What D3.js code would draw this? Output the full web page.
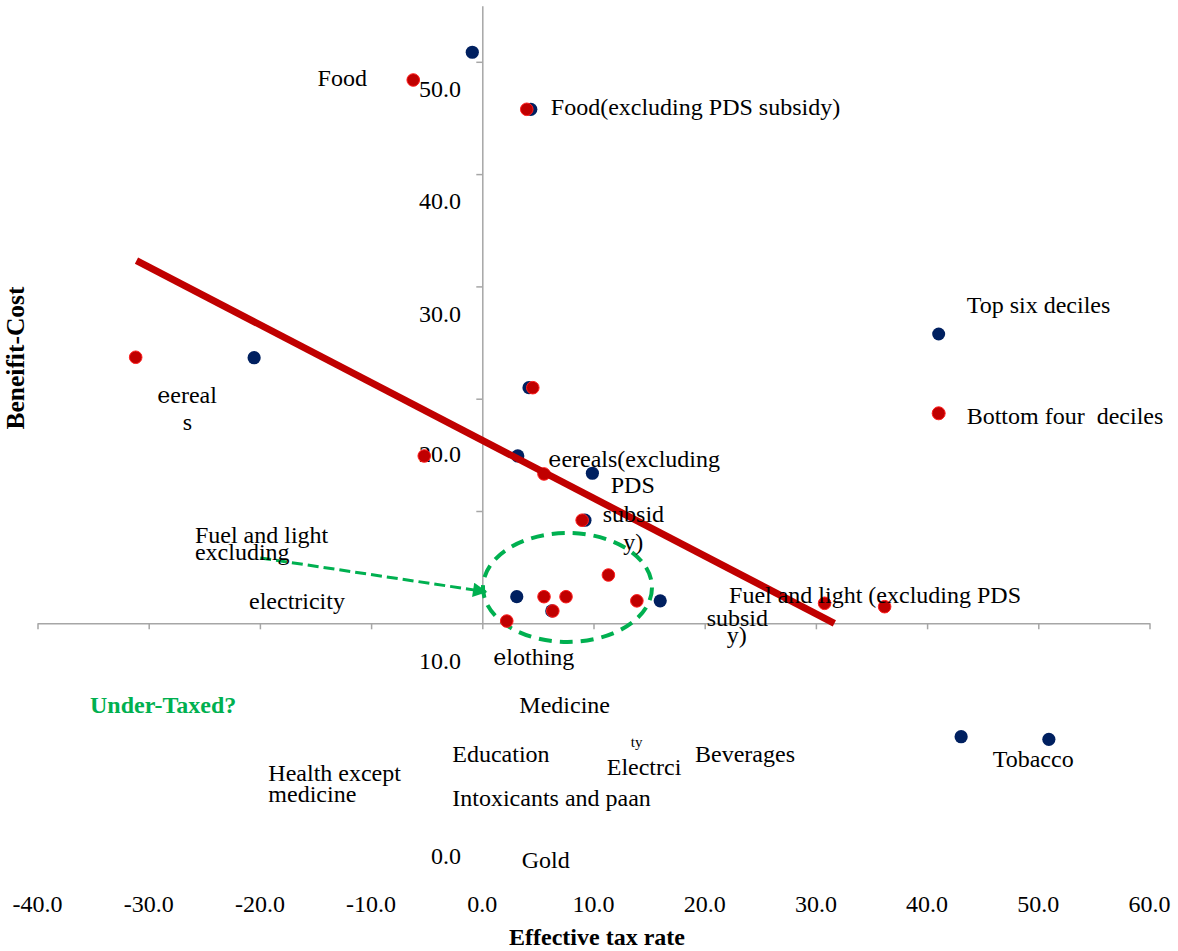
<!DOCTYPE html>
<html>
<head>
<meta charset="utf-8">
<script src="https://cdn.jsdelivr.net/npm/d3@7"></script>
<style>
  html, body { margin: 0; padding: 0; background: #ffffff; }
  svg { display: block; }
  text { font-family: "Liberation Serif", "Times New Roman", serif; fill: #000; }
</style>
</head>
<body>
<svg id="chart" width="1178" height="951"></svg>
<script>
// ---------------- DATA ----------------
const xTicks = [-40, -30, -20, -10, 0, 10, 20, 30, 40, 50, 60];
const xTickLabels = ["-40.0", "-30.0", "-20.0", "-10.0", "0.0", "10.0", "20.0", "30.0", "40.0", "50.0", "60.0"];
const yTicks = [10, 20, 30, 40, 50];
// y tick labels and the (displaced) data value at which each label sits
const yTickLabels = ["50.0", "40.0", "30.0", "20.0", "10.0", "0.0"];
const yTickLabelAt = [46.87, 36.89, 26.86, 14.39, -4.10, -21.46];

// Top six deciles (navy)
const topX = [-0.9, 4.36, -20.52, 4.2, 3.19, 9.9, 9.23, 3.1, 6.25, 16.0, 43.06, 50.95];
const topY = [50.85, 45.77, 23.65, 20.98, 14.9, 13.36, 9.18, 2.37, 1.1, 2.0, -10.1, -10.33];

// Bottom four deciles (red)
const bottomX = [-6.21, 4.0, -31.17, 4.54, -5.22, 5.55, 8.98, 11.34, 5.55, 7.53, 6.34, 2.2, 13.9, 30.78, 36.18];
const bottomY = [48.38, 45.77, 23.69, 20.98, 14.9, 13.3, 9.18, 4.3, 2.37, 2.37, 1.1, 0.2, 2.0, 1.78, 1.48];

// Trend line end points (x, y)
const trendX = [-31.1, 31.66];
const trendY = [32.3, 0.0];

// Legend
const legendNames = ["Top six deciles", "Bottom four  deciles"];
const legendX = [41.04, 41.04];
const legendY = [25.76, 18.7];
const legendTextX = [43.56, 43.56];
const legendTextY = [27.6, 17.75];

// Category annotations (text, anchor x, anchor y in data units)
const annotText = ["Food", "Food(excluding PDS subsidy)", "eereal", "s",
  "eereals(excluding", "PDS", "subsid", "y)",
  "Fuel and light", "excluding", "electricity",
  "Fuel and light (excluding PDS", "subsid", "y)",
  "elothing", "Medicine", "Education", "Electrci", "Beverages", "Tobacco",
  "Health except", "medicine", "Intoxicants and paan", "Gold"];
const annotX = [-14.81, 6.16, -29.23, -26.94,
  5.94, 11.55, 10.83, 12.68,
  -25.84, -25.84, -20.98,
  22.19, 20.18, 21.98,
  0.99, 3.33, -2.70, 11.19, 19.13, 45.9,
  -19.24, -19.24, -2.70, 3.54];
const annotY = [47.84, 45.26, 19.64, 17.17,
  13.94, 11.58, 9.05, 6.53,
  7.18, 5.64, 1.25,
  1.83, -0.21, -1.78,
  -3.71, -7.96, -12.38, -13.51, -12.32, -12.77,
  -14.02, -15.94, -16.24, -21.82];
// small superscript fragment
const smallText = ["ty"];
const smallX = [13.35];
const smallY = [-11.04];

// Green highlight: dashed ellipse (centre, radii in data units) and arrow
const ellipseCenter = [7.66, 3.19];
const ellipseRadii = [7.6, 4.85];
const arrowFrom = [-19.97, 5.82];
const arrowTo = [0.33, 2.81];
const calloutText = "Under-Taxed?";
const calloutPos = [-35.28, -7.96];

const xTitle = "Effective tax rate";
const yTitle = "Beneifit-Cost";

// ---------------- DRAW ----------------
const svg = d3.select("#chart");
const x = d3.scaleLinear().domain([-40, 60]).range([37.5, 1149.5]);
const y = d3.scaleLinear().domain([0, 50]).range([623.3, 61.8]);

const AXIS = "#a6a6a6";
const NAVY = "#002060";
const RED = "#c00000";
const GREEN = "#00b050";
const FS = 24;

// x axis
const gx = svg.append("g").attr("transform", `translate(0,${y(0)})`)
  .call(d3.axisBottom(x).tickValues(xTicks).tickSize(6).tickSizeOuter(0).tickFormat(""));
gx.select(".domain").attr("stroke", AXIS).attr("stroke-width", 1.5);
gx.selectAll(".tick line").attr("stroke", AXIS).attr("stroke-width", 1.5);

// y axis (line extends to 55)
const yAxisScale = y.copy().domain([0, 55]).range([y(0), y(55)]);
const gy = svg.append("g").attr("transform", `translate(${x(0)},0)`)
  .call(d3.axisLeft(yAxisScale).tickValues(yTicks).tickSize(6).tickSizeOuter(0).tickFormat(""));
gy.select(".domain").attr("stroke", AXIS).attr("stroke-width", 1.5);
gy.selectAll(".tick line").attr("stroke", AXIS).attr("stroke-width", 1.5);

// x tick labels
svg.append("g").selectAll("text").data(xTicks).join("text")
  .attr("x", d => x(d)).attr("y", y(-25.68))
  .attr("text-anchor", "middle").attr("font-size", FS)
  .text((d, i) => xTickLabels[i]);

// y tick labels (displaced)
svg.append("g").selectAll("text").data(yTickLabels).join("text")
  .attr("x", x(-1.92)).attr("y", (d, i) => y(yTickLabelAt[i]))
  .attr("text-anchor", "end").attr("font-size", FS)
  .text(d => d);

// axis titles
svg.append("text").attr("x", 597).attr("y", 945)
  .attr("text-anchor", "middle").attr("font-size", FS).attr("font-weight", "bold")
  .text(xTitle);
svg.append("text")
  .attr("transform", `translate(24,358) rotate(-90)`)
  .attr("text-anchor", "middle").attr("font-size", 25.5).attr("font-weight", "bold")
  .text(yTitle);

// green ellipse
svg.append("ellipse")
  .attr("cx", x(ellipseCenter[0])).attr("cy", y(ellipseCenter[1]))
  .attr("rx", x(ellipseRadii[0]) - x(0)).attr("ry", y(0) - y(ellipseRadii[1]))
  .attr("fill", "none").attr("stroke", GREEN).attr("stroke-width", 4)
  .attr("stroke-dasharray", "13,8");

// green arrow
const defs = svg.append("defs");
defs.append("marker").attr("id", "arrowhead")
  .attr("viewBox", "0 0 10 10").attr("refX", 9).attr("refY", 5)
  .attr("markerWidth", 5.5).attr("markerHeight", 4.8).attr("orient", "auto")
  .attr("markerUnits", "strokeWidth")
  .append("path").attr("d", "M0,0 L10,5 L0,10 z").attr("fill", GREEN);
svg.append("line")
  .attr("x1", x(arrowFrom[0])).attr("y1", y(arrowFrom[1]))
  .attr("x2", x(arrowTo[0])).attr("y2", y(arrowTo[1]))
  .attr("stroke", GREEN).attr("stroke-width", 3)
  .attr("stroke-dasharray", "11,5")
  .attr("marker-end", "url(#arrowhead)");

// points: navy first, red on top
svg.append("g").selectAll("circle").data(topX).join("circle")
  .attr("cx", d => x(d)).attr("cy", (d, i) => y(topY[i]))
  .attr("r", 6.6).attr("fill", NAVY);
svg.append("g").selectAll("circle").data(bottomX).join("circle")
  .attr("cx", d => x(d)).attr("cy", (d, i) => y(bottomY[i]))
  .attr("r", 6.3).attr("fill", RED).attr("stroke", "#ff1f1f").attr("stroke-width", 1);

// trend line
svg.append("line")
  .attr("x1", x(trendX[0])).attr("y1", y(trendY[0]))
  .attr("x2", x(trendX[1])).attr("y2", y(trendY[1]))
  .attr("stroke", RED).attr("stroke-width", 7);

// legend
const legColors = [NAVY, RED];
svg.append("g").selectAll("circle").data(legendNames).join("circle")
  .attr("cx", (d, i) => x(legendX[i])).attr("cy", (d, i) => y(legendY[i]))
  .attr("r", 6.5).attr("fill", (d, i) => legColors[i])
  .attr("stroke", (d, i) => i === 1 ? "#ff1f1f" : "none").attr("stroke-width", 1);
svg.append("g").selectAll("text").data(legendNames).join("text")
  .attr("x", (d, i) => x(legendTextX[i])).attr("y", (d, i) => y(legendTextY[i]))
  .attr("font-size", FS).style("white-space", "pre")
  .text(d => d);

// annotations
const ann = svg.append("g").selectAll("text").data(annotText).join("text")
  .attr("x", (d, i) => x(annotX[i])).attr("y", (d, i) => y(annotY[i]))
  .attr("font-size", FS);
ann.each(function (d) {
  const t = d3.select(this);
  if (d.startsWith("eereal") || d.startsWith("elothing")) {
    t.append("tspan").attr("font-family", "DejaVu Serif").attr("font-size", FS - 2).text("e");
    t.append("tspan").text(d.slice(1));
  } else {
    t.text(d);
  }
});
svg.append("g").selectAll("text").data(smallText).join("text")
  .attr("x", (d, i) => x(smallX[i])).attr("y", (d, i) => y(smallY[i]))
  .attr("font-size", 15).text(d => d);

// callout
svg.append("text").attr("x", x(calloutPos[0])).attr("y", y(calloutPos[1]))
  .attr("font-size", FS).attr("font-weight", "bold").style("fill", GREEN)
  .text(calloutText);
</script>
</body>
</html>
